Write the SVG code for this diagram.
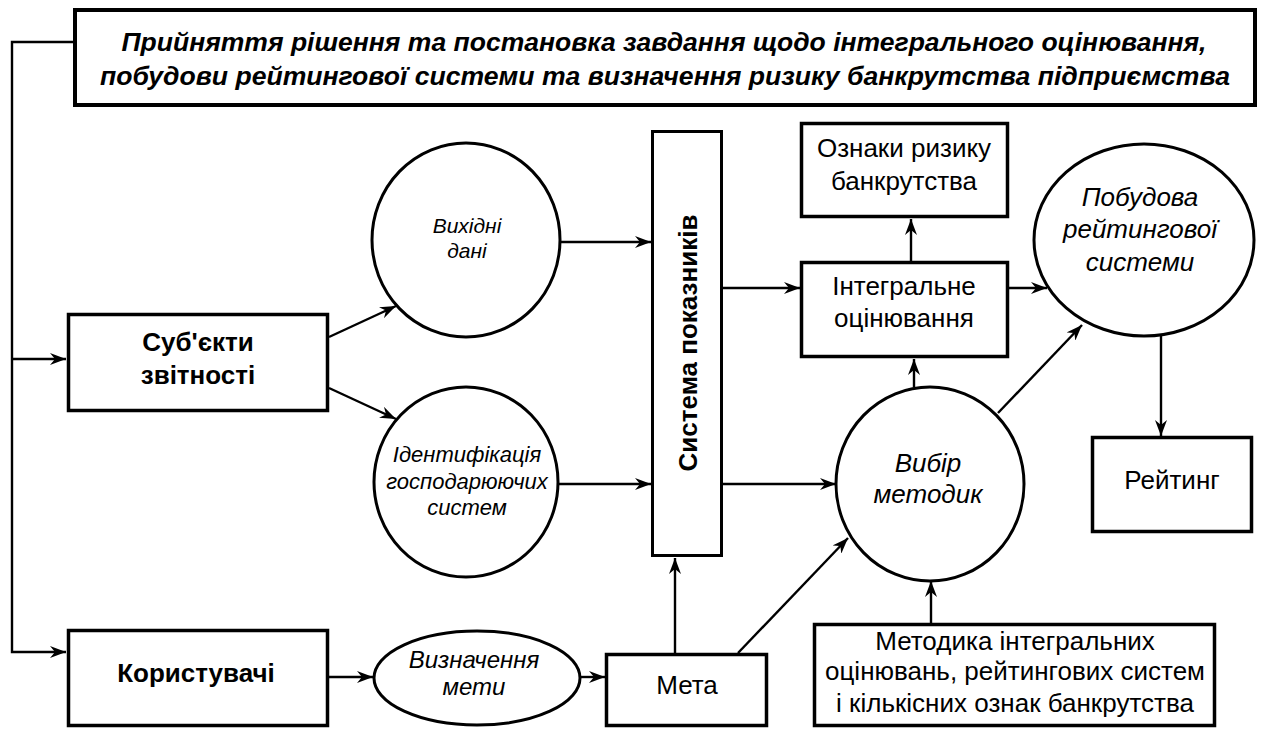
<svg xmlns="http://www.w3.org/2000/svg" width="1262" height="729" viewBox="0 0 1262 729">
<style>
  .box{fill:#fff;stroke:#000;stroke-width:3.5}
  .ell{fill:#fff;stroke:#000;stroke-width:3}
  .t{font-family:"Liberation Sans",Arial,sans-serif;fill:#000;text-anchor:middle}
  .b{font-weight:bold}
  .i{font-style:italic}
  .c{fill:none;stroke:#000;stroke-width:2.4}
  .a{marker-end:url(#ah)}
</style>
<defs>
  <marker id="ah" viewBox="0 0 16 12" refX="16" refY="6" markerWidth="16" markerHeight="12" orient="auto" markerUnits="userSpaceOnUse">
    <path d="M0,0 L16,6 L0,12 L5,6 z" fill="#000"/>
  </marker>
</defs>
<rect width="1262" height="729" fill="#fff"/>

<g id="connectors">
  <path class="c" d="M75,42 H12 V652 H66" marker-end="url(#ah)"/>
  <path class="c a" d="M12,359 H66"/>
  <path class="c a" d="M329,337 L396,306"/>
  <path class="c a" d="M329,388 L396,419"/>
  <path class="c a" d="M560,242 H651"/>
  <path class="c a" d="M558,484 H651"/>
  <path class="c a" d="M723,288 H800"/>
  <path class="c a" d="M723,484 H836"/>
  <path class="c a" d="M911,261 V219"/>
  <path class="c a" d="M1009,288 H1047"/>
  <path class="c a" d="M914,387 V359"/>
  <path class="c a" d="M998,413 L1082,325"/>
  <path class="c a" d="M1161,336 V436"/>
  <path class="c a" d="M931,623 V581"/>
  <path class="c a" d="M675,653 V558"/>
  <path class="c a" d="M738,653 L848,538"/>
  <path class="c a" d="M329,677 H373"/>
  <path class="c a" d="M580,677 H605"/>
</g>

<g id="top">
  <rect class="box" x="75" y="10" width="1180" height="95" style="stroke-width:4"/>
  <text class="t b i" font-size="26" x="664" y="51" textLength="1085" lengthAdjust="spacingAndGlyphs">Прийняття рішення та постановка завдання щодо інтегрального оцінювання,</text>
  <text class="t b i" font-size="26" x="665" y="85" textLength="1130" lengthAdjust="spacingAndGlyphs">побудови рейтингової системи та визначення ризику банкрутства підприємства</text>
</g>

<g id="subjects">
  <rect class="box" x="68.5" y="314.5" width="259" height="96"/>
  <text class="t b" font-size="26" x="198" y="351">Суб'єкти</text>
  <text class="t b" font-size="26" x="198" y="384">звітності</text>
</g>

<g id="users">
  <rect class="box" x="68.5" y="630.5" width="259" height="95"/>
  <text class="t b" font-size="26" x="196" y="682">Користувачі</text>
</g>

<g id="input-data">
  <ellipse class="ell" cx="466" cy="240" rx="94" ry="97"/>
  <text class="t i" font-size="21" x="467" y="233">Вихідні</text>
  <text class="t i" font-size="21" x="467" y="258">дані</text>
</g>

<g id="identification">
  <ellipse class="ell" cx="466" cy="482" rx="92" ry="95"/>
  <text class="t i" font-size="22" x="467" y="462">Ідентифікація</text>
  <text class="t i" font-size="22" x="467" y="489">господарюючих</text>
  <text class="t i" font-size="22" x="467" y="515">систем</text>
</g>

<g id="goal-def">
  <ellipse class="ell" cx="477" cy="678" rx="103" ry="47"/>
  <text class="t i" font-size="24" x="474" y="668">Визначення</text>
  <text class="t i" font-size="24" x="474" y="695">мети</text>
</g>

<g id="goal">
  <rect class="box" x="606.5" y="654.5" width="160" height="71"/>
  <text class="t" font-size="26" x="687" y="694">Мета</text>
</g>

<g id="indicators">
  <rect class="box" x="652.5" y="131.5" width="69" height="424" style="stroke-width:3"/>
  <text class="t b" font-size="26" transform="translate(697,343) rotate(-90)" x="0" y="0">Система показників</text>
</g>

<g id="bankruptcy-signs">
  <rect class="box" x="801.5" y="123.5" width="206" height="93"/>
  <text class="t" font-size="26" x="904" y="157">Ознаки ризику</text>
  <text class="t" font-size="26" x="904" y="190">банкрутства</text>
</g>

<g id="integral">
  <rect class="box" x="801.5" y="262.5" width="206" height="94"/>
  <text class="t" font-size="26" x="904" y="295">Інтегральне</text>
  <text class="t" font-size="26" x="904" y="327">оцінювання</text>
</g>

<g id="rating-system">
  <ellipse class="ell" cx="1144" cy="240" rx="110" ry="96"/>
  <text class="t i" font-size="26" x="1140" y="206">Побудова</text>
  <text class="t i" font-size="26" x="1140" y="238">рейтингової</text>
  <text class="t i" font-size="26" x="1140" y="271">системи</text>
</g>

<g id="methods">
  <ellipse class="ell" cx="930" cy="484" rx="94" ry="97"/>
  <text class="t i" font-size="26" x="928" y="472">Вибір</text>
  <text class="t i" font-size="26" x="928" y="503">методик</text>
</g>

<g id="rating">
  <rect class="box" x="1092.5" y="437.5" width="159" height="94"/>
  <text class="t" font-size="26" x="1172" y="489">Рейтинг</text>
</g>

<g id="methodology">
  <rect class="box" x="814.5" y="624.5" width="400" height="101"/>
  <text class="t" font-size="26" x="1015" y="650">Методика інтегральних</text>
  <text class="t" font-size="26" x="1015" y="680">оцінювань, рейтингових систем</text>
  <text class="t" font-size="26" x="1015" y="712">і кількісних ознак банкрутства</text>
</g>
</svg>
